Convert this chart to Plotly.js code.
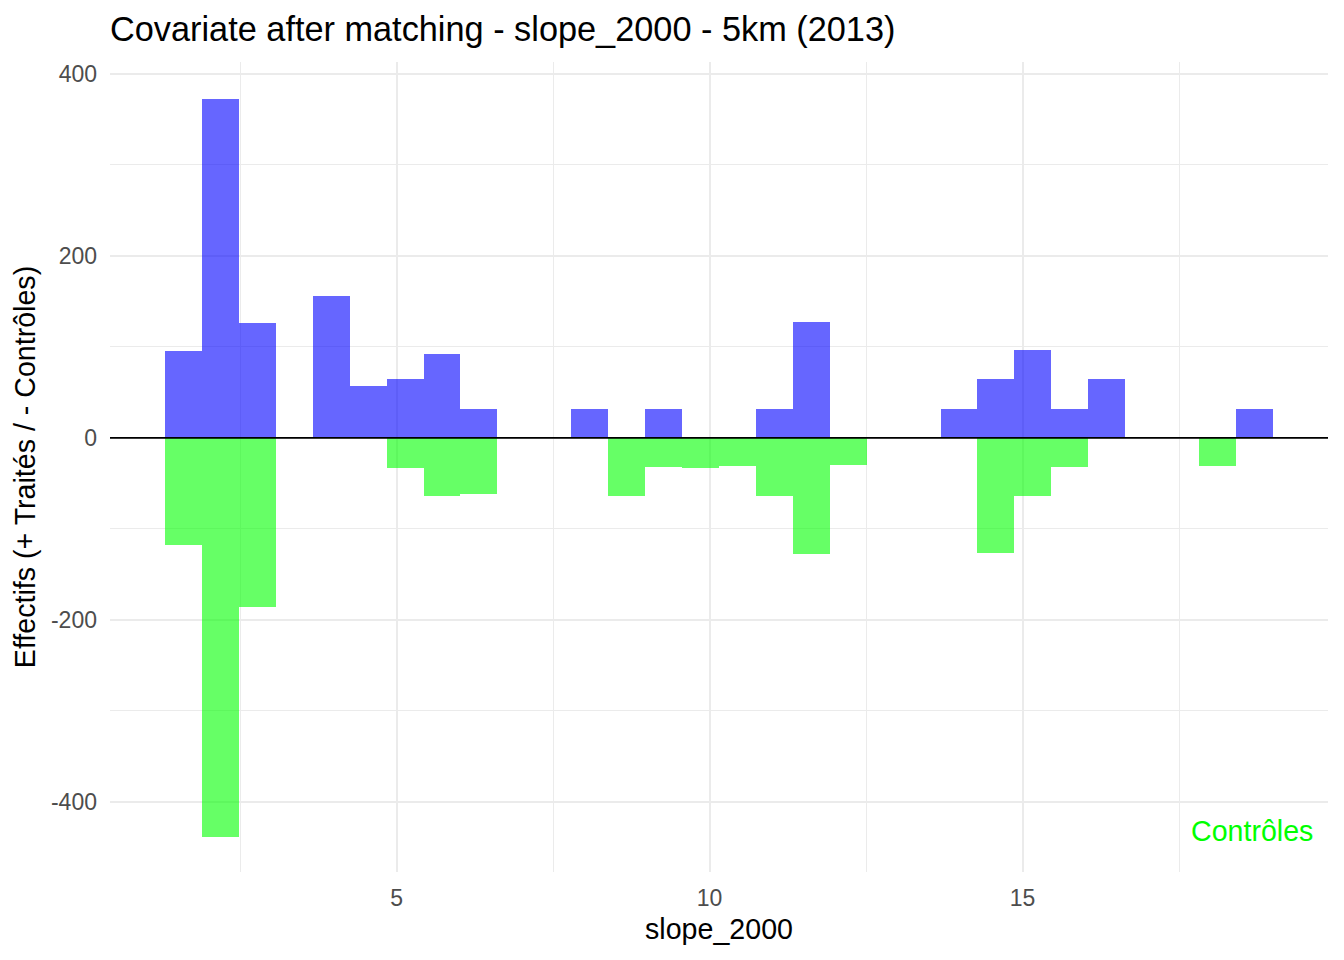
<!DOCTYPE html>
<html>
<head>
<meta charset="utf-8">
<script src="https://cdn.plot.ly/plotly-3.0.1.min.js"></script>
<style>html,body{margin:0;padding:0;background:#fff;}#chart{width:1344px;height:960px;}</style>
</head>
<body>
<div id="chart"></div>
<script>
// Histogram bins of slope_2000 (bin centres), bin width
const binCenters = [1.594, 2.184, 2.774, 3.364, 3.954, 4.544, 5.134, 5.724, 6.314, 6.904,
                    7.494, 8.084, 8.674, 9.264, 9.854, 10.444, 11.034, 11.624, 12.214, 12.804,
                    13.394, 13.984, 14.574, 15.164, 15.754, 16.344, 16.934, 17.524, 18.114, 18.704];
const binWidth = 0.59;
// Treated counts (plotted upward)
const treated = [96, 372, 126, 0, 156, 57, 64.5, 92, 31.5, 0,
                 0, 31.5, 0, 31.5, 0, 0, 31.5, 127, 0, 0,
                 0, 31.5, 64.5, 96.5, 31.5, 64.5, 0, 0, 0, 31.5];
// Control counts (plotted downward)
const controls = [118, 439, 186, 0, 0, 0, 33, 63.5, 62, 0,
                  0, 0, 63.5, 32, 33, 31, 63.5, 127.5, 30, 0,
                  0, 0, 126.5, 63.5, 32, 0, 0, 0, 31, 0];
const xTicks = [5, 10, 15];
const xTickText = ["5", "10", "15"];
const xMinor = [2.5, 7.5, 12.5, 17.5];
const yTicks = [-400, -200, 0, 200, 400];
const yTickText = ["-400", "-200", "0", "200", "400"];
const yMinor = [-300, -100, 100, 300];
const titleText = "Covariate after matching - slope_2000 - 5km (2013)";
const xTitle = "slope_2000";
const yTitle = "Effectifs (+ Traités / - Contrôles)";
const labelText = "Contrôles";
const labelPos = [19.67, -432];

const FONT = "Liberation Sans, Arial, sans-serif";

const traces = [
  {
    type: "bar", name: "Traités",
    x: binCenters, y: treated, width: binCenters.map(() => binWidth),
    marker: {color: "rgba(0,0,255,0.6)", line: {width: 0}},
    hoverinfo: "x+y"
  },
  {
    type: "bar", name: "Contrôles",
    x: binCenters, y: controls.map(v => -v), width: binCenters.map(() => binWidth),
    marker: {color: "rgba(0,255,0,0.6)", line: {width: 0}},
    hoverinfo: "x+y"
  }
];

const layout = {
  width: 1344, height: 960,
  margin: {l: 110, r: 16, t: 62, b: 88},
  paper_bgcolor: "#ffffff", plot_bgcolor: "#ffffff",
  font: {family: FONT, color: "#000000"},
  showlegend: false,
  barmode: "overlay", bargap: 0,
  title: {
    text: titleText, font: {family: FONT, size: 34.3, color: "#000000"},
    x: 110 / 1344, xref: "container", xanchor: "left",
    y: 1 - 29 / 960, yref: "container", yanchor: "middle"
  },
  xaxis: {
    range: [0.42, 19.88], autorange: false,
    tickmode: "array", tickvals: xTicks, ticktext: xTickText,
    ticks: "", showline: false, zeroline: false,
    showgrid: true, gridcolor: "#ebebeb", gridwidth: 2,
    minor: {tickmode: "array", tickvals: xMinor, showgrid: true, gridcolor: "#ebebeb", gridwidth: 1, ticks: ""},
    tickfont: {family: FONT, size: 23, color: "#4d4d4d"},
    ticklabelstandoff: 10,
    title: {text: xTitle, font: {family: FONT, size: 28.6, color: "#000000"}, standoff: 8},
    automargin: false
  },
  yaxis: {
    range: [-477, 413], autorange: false,
    tickmode: "array", tickvals: yTicks, ticktext: yTickText,
    ticks: "", showline: false, zeroline: false,
    showgrid: true, gridcolor: "#ebebeb", gridwidth: 2,
    minor: {tickmode: "array", tickvals: yMinor, showgrid: true, gridcolor: "#ebebeb", gridwidth: 1, ticks: ""},
    tickfont: {family: FONT, size: 23, color: "#4d4d4d"},
    ticklabelstandoff: 12,
    title: {text: yTitle, font: {family: FONT, size: 28.6, color: "#000000"}, standoff: 6},
    automargin: false
  },
  shapes: [
    {type: "line", xref: "paper", x0: 0, x1: 1, yref: "y", y0: 0, y1: 0,
     line: {color: "#000000", width: 1.6}, layer: "above"}
  ],
  annotations: [
    {text: labelText, x: labelPos[0], y: labelPos[1], xref: "x", yref: "y",
     xanchor: "right", yanchor: "middle", showarrow: false,
     font: {family: FONT, size: 28.6, color: "#00ff00"}}
  ]
};

Plotly.newPlot("chart", traces, layout, {displayModeBar: false, staticPlot: true});
</script>
</body>
</html>
